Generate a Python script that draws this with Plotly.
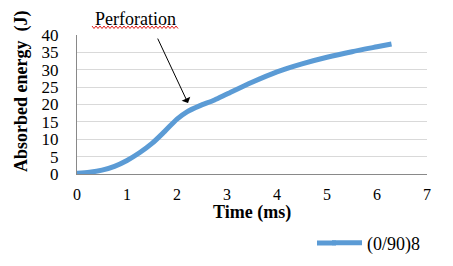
import plotly.graph_objects as go

time_ms = [0.0, 0.25, 0.5, 0.75, 1.0, 1.25, 1.5, 1.75, 2.0, 2.2, 2.45, 2.75, 3.0, 3.5, 4.0, 4.5, 5.0, 5.5, 6.0, 6.29]
energy_j = [0.2, 0.5, 1.1, 2.2, 3.9, 6.1, 8.8, 12.2, 15.8, 17.9, 19.6, 21.3, 23.0, 26.4, 29.4, 31.7, 33.6, 35.2, 36.6, 37.4]
series_name = "(0/90)8"
x_ticks = [0, 1, 2, 3, 4, 5, 6, 7]
y_ticks = [0, 5, 10, 15, 20, 25, 30, 35, 40]
x_title = "Time (ms)"
y_title = "Absorbed energy  (J)"
annot_text = "Perforation"
annot_point = (2.22, 20.4)
annot_tail = (1.6, 39.4)

font = "Liberation Serif"
BLUE = "#5B9BD5"

W, H = 453, 266
L, R, T, B = 77, 26, 35, 92
pw, ph = W - L - R, H - T - B


def px(x):
    return (x - L) / pw


def py(y):
    return (H - B - y) / ph


fig = go.Figure()
fig.add_trace(go.Scatter(
    x=time_ms, y=energy_j, mode="lines", name=series_name,
    line=dict(color=BLUE, width=5, shape="spline", smoothing=0.8),
))

# arrow
fig.add_annotation(
    x=annot_point[0], y=annot_point[1], ax=annot_tail[0], ay=annot_tail[1],
    xref="x", yref="y", axref="x", ayref="y",
    text="", showarrow=True, arrowhead=1, arrowsize=1.6, arrowwidth=1, arrowcolor="#000000",
)
# annotation label
fig.add_annotation(
    x=px(135), y=py(19), xref="paper", yref="paper", text=annot_text,
    showarrow=False, yanchor="middle", xanchor="center",
    font=dict(family=font, size=18, color="#000"),
)
# red spell-check squiggle under the label
sq = []
xs = 92
k = 0
while xs <= 178:
    yy = 26 if k % 2 == 0 else 28.5
    sq.append(f"{'M' if k == 0 else 'L'} {px(xs):.5f},{py(yy):.5f}")
    xs += 2
    k += 1
fig.add_shape(type="path", path=" ".join(sq), xref="paper", yref="paper",
              line=dict(color="#E0201B", width=1))

# axis titles as annotations for exact placement
fig.add_annotation(
    x=px(252), y=py(212), xref="paper", yref="paper", text=f"<b>{x_title}</b>",
    showarrow=False, yanchor="middle", xanchor="center",
    font=dict(family=font, size=18, color="#000"),
)
fig.add_annotation(
    x=px(21), y=py(92), xref="paper", yref="paper", text=f"<b>{y_title}</b>",
    showarrow=False, yanchor="middle", xanchor="center", textangle=-90,
    font=dict(family=font, size=18, color="#000"),
)

# lengthen legend sample line to the left
fig.add_shape(type="line", x0=px(317), x1=px(336), y0=py(243), y1=py(243),
              xref="paper", yref="paper", line=dict(color=BLUE, width=5))

fig.update_layout(
    width=W, height=H,
    margin=dict(l=L, r=R, t=T, b=B, autoexpand=False),
    paper_bgcolor="white", plot_bgcolor="white",
    font=dict(family=font, size=17, color="#000"),
    showlegend=True,
    legend=dict(x=px(327), y=1 - 243 / H, xref="paper", yref="container",
                xanchor="left", yanchor="middle", orientation="h",
                font=dict(family=font, size=18), bgcolor="rgba(0,0,0,0)",
                borderwidth=0),
    xaxis=dict(range=[0, 7], tickvals=x_ticks, showgrid=False, showline=True, linecolor="#898989",
               linewidth=1, zeroline=False, ticks="", ticklabelstandoff=6, automargin=False,
               tickfont=dict(family=font, size=16)),
    yaxis=dict(range=[0, 40], tickvals=y_ticks, showgrid=True, gridcolor="#D9D9D9", gridwidth=1,
               showline=True, linecolor="#898989", linewidth=1, zeroline=False, ticks="",
               ticklabelstandoff=14, automargin=False,
               tickfont=dict(family=font, size=17)),
)

fig.write_html("out.html")
